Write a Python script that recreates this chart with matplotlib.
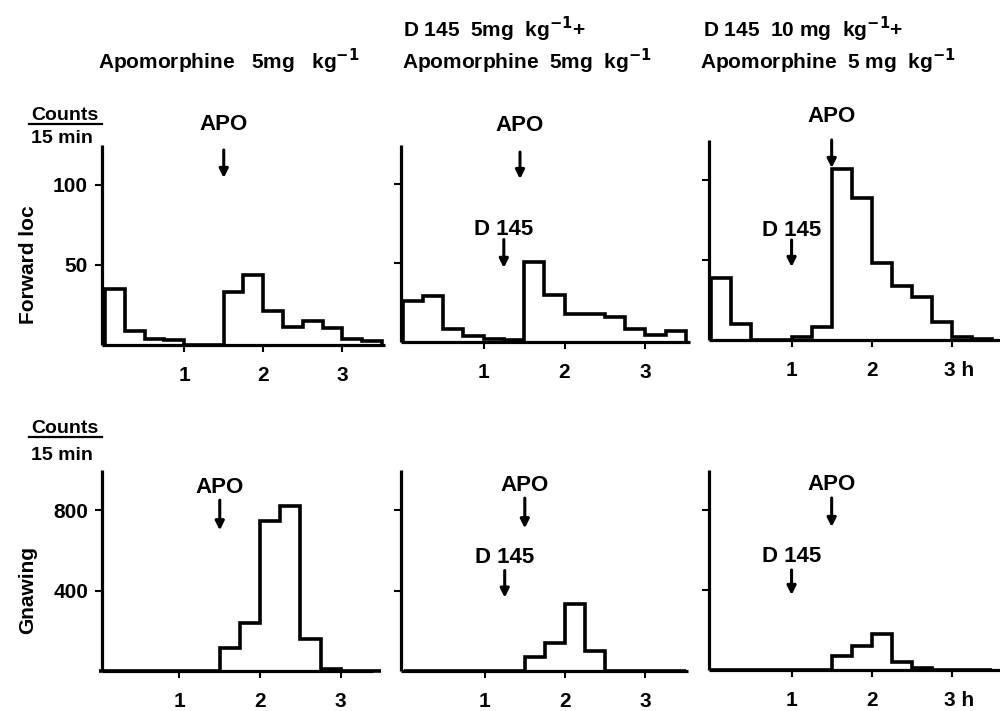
import matplotlib
matplotlib.use("Agg")
import matplotlib.pyplot as plt
from matplotlib.lines import Line2D
from matplotlib.transforms import ScaledTranslation

plt.rcParams['font.family'] = ['Liberation Sans', 'DejaVu Sans']
plt.rcParams['font.weight'] = 'bold'
plt.rcParams['mathtext.default'] = 'bf'

# ---------------- data ----------------
bin_edges_h = [0, 0.25, 0.5, 0.75, 1.0, 1.25, 1.5, 1.75, 2.0, 2.25, 2.5, 2.75, 3.0, 3.25, 3.5]

fwd_apo = [35, 9, 4, 3, 0, 0, 33, 44, 21, 11.5, 15, 10.5, 4, 2.5]
fwd_d145_5 = [26, 29, 8, 4, 2, 1, 51, 30, 18, 18, 16, 8, 4.5, 7]
fwd_d145_10 = [39, 10, 0, 0, 2, 8, 107, 89, 48, 34, 27, 11, 2, 0.5]

gnaw_apo = [0, 0, 0, 0, 0, 0, 114, 238, 747, 821, 160, 8, 0, 0]
gnaw_d145_5 = [0, 0, 0, 0, 0, 0, 71, 140, 332, 101, 0, 0, 0, 0]
gnaw_d145_10 = [0, 0, 0, 0, 0, 0, 70, 120, 182, 41, 11, 0, 0, 0]

fwd_yticks = [50, 100]
gnaw_yticks = [400, 800]
x_ticks = [1, 2, 3]

apo_time = [1.5, 1.45, 1.5]
d145_time = [None, 1.25, 1.0]

W, H = 1000, 711
fig = plt.figure(figsize=(W / 100, H / 100), dpi=100)


def rect(l, r, t, b):
    return [l / W, 1 - b / H, (r - l) / W, (b - t) / H]


def ftext(x, y, s, **kw):
    fig.text(x / W, 1 - y / H, s, **kw)


top_rects = [rect(102, 385, 145, 345), rect(401, 690, 145, 342), rect(709, 1000, 140, 340)]
top_xlims = [(-0.04, 3.54), (-0.02, 3.55), (-0.03, 3.6)]
bot_rects = [rect(102, 373, 470, 671), rect(401, 688, 470, 671), rect(709, 1000, 470, 670)]
bot_xlims = [(0.04, 3.4), (-0.04, 3.53), (-0.03, 3.6)]

top_data = [fwd_apo, fwd_d145_5, fwd_d145_10]
bot_data = [gnaw_apo, gnaw_d145_5, gnaw_d145_10]

# arrow layout (axes-fraction y): text, tail, tip
top_apo_y = [(1.10, 0.975, 0.835), (1.10, 0.964, 0.827), (1.115, 1.0, 0.86)]
top_d145_y = [None, (0.571, 0.52, 0.376), (0.55, 0.50, 0.365)]
bot_apo_y = [(0.915, 0.85, 0.70), (0.925, 0.86, 0.71), (0.925, 0.86, 0.715)]
bot_d145_y = [None, (0.565, 0.50, 0.365), (0.565, 0.50, 0.375)]

FS = 15
LW = 2.3


def style(ax, xlim, ylim, yticks, first, last):
    ax.set_xlim(*xlim)
    ax.set_ylim(*ylim)
    for s in ['top', 'right']:
        ax.spines[s].set_visible(False)
    for s in ['left', 'bottom']:
        ax.spines[s].set_linewidth(LW)
        ax.spines[s].set_capstyle('butt')
    ax.set_xticks(x_ticks)
    labels = [str(t) for t in x_ticks]
    if last:
        labels[-1] = '3 h'
    ax.set_xticklabels(labels, fontsize=FS, fontweight='bold')
    ax.set_yticks(yticks)
    if first:
        ax.set_yticklabels([str(t) for t in yticks], fontsize=FS, fontweight='bold')
    else:
        ax.set_yticklabels([])
    ax.tick_params(axis='y', direction='out', length=5, width=1.5, pad=5)
    ax.tick_params(axis='x', direction='out', length=5, width=1.5, pad=10)
    if last:
        lab = ax.get_xticklabels()[-1]
        lab.set_ha('left')
        lab.set_transform(lab.get_transform() + ScaledTranslation(-6 / 72, 0, fig.dpi_scale_trans))


def arrow(ax, x, ys, label):
    tr = ax.get_xaxis_transform()
    ty, tail, tip = ys
    ax.annotate('', xy=(x, tip), xytext=(x, tail), xycoords=tr, textcoords=tr,
                arrowprops=dict(arrowstyle='-|>', lw=2.2, color='black',
                                mutation_scale=13, shrinkA=0, shrinkB=0),
                annotation_clip=False)
    ax.text(x, ty, label, transform=tr, ha='center', va='center', fontsize=FS + 1,
            fontweight='bold', clip_on=False)


for i in range(3):
    ax = fig.add_axes(top_rects[i])
    ax.stairs(top_data[i], bin_edges_h, baseline=0, color='black', lw=2.6, clip_on=False)
    style(ax, top_xlims[i], (0, 125), fwd_yticks, i == 0, i == 2)
    arrow(ax, apo_time[i], top_apo_y[i], 'APO')
    if d145_time[i] is not None:
        arrow(ax, d145_time[i], top_d145_y[i], 'D 145')

    ax = fig.add_axes(bot_rects[i])
    ax.stairs(bot_data[i], bin_edges_h, baseline=0, color='black', lw=2.6, clip_on=False)
    style(ax, bot_xlims[i], (0, 1000), gnaw_yticks, i == 0, i == 2)
    arrow(ax, 1.5, bot_apo_y[i], 'APO')
    if d145_time[i] is not None:
        arrow(ax, d145_time[i], bot_d145_y[i], 'D 145')

# column titles
TFS = 15
ftext(98, 69, 'Apomorphine   5mg   kg$^{-1}$', fontsize=TFS, ha='left', va='baseline')
ftext(403, 37, 'D 145  5mg  kg$^{-1}$+', fontsize=TFS, ha='left', va='baseline')
ftext(402, 69, 'Apomorphine  5mg  kg$^{-1}$', fontsize=TFS, ha='left', va='baseline')
ftext(703, 37, 'D 145  10 mg  kg$^{-1}$+', fontsize=TFS, ha='left', va='baseline')
ftext(700, 69, 'Apomorphine  5 mg  kg$^{-1}$', fontsize=TFS, ha='left', va='baseline')

# y labels
ftext(28, 265, 'Forward loc', fontsize=FS, rotation=90, ha='center', va='center')
ftext(28, 590, 'Gnawing', fontsize=FS, rotation=90, ha='center', va='center')

# Counts / 15 min
for yc, y2 in ((120, 143), (433, 460)):
    ftext(65, yc, 'Counts', fontsize=14, ha='center', va='baseline')
    fig.add_artist(Line2D([29 / W, 102 / W], [1 - (yc + 3.5) / H] * 2, color='black', lw=1.6))
    ftext(62, y2, '15 min', fontsize=14, ha='center', va='baseline')

fig.savefig('out.png', dpi=100)
